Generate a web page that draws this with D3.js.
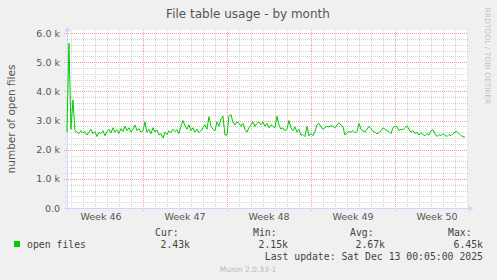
<!DOCTYPE html>
<html>
<head>
<meta charset="utf-8">
<script src="https://cdn.jsdelivr.net/npm/d3@7"></script>
<style>
  body { margin: 0; background: #f0f0f0; }
  svg text { font-family: "DejaVu Sans", sans-serif; }
  .mono { font-family: "DejaVu Sans Mono", monospace; }
</style>
</head>
<body>
<div id="chart"></div>
<script>

// open files, one sample every 4 hours, split at the sunday grid lines
var week46 = [2600, 5650, 2700, 3700, 2650, 2600, 2550, 2650, 2580, 2620,
              2500, 2600, 2700, 2550, 2620, 2450, 2600, 2550, 2650, 2480,
              2620, 2700, 2580, 2750, 2600, 2680, 2560, 2720, 2620, 2800,
              2650, 2750, 2600, 2700, 2850, 2650, 2720, 2600];
var week47 = [2650, 2950, 2600, 2700, 2550, 2750, 2600, 2680, 2500, 2550,
              2400, 2600, 2520, 2650, 2580, 2700, 2620, 2680, 2550, 2800,
              3000, 2820, 2700, 2850, 2650, 2750, 2600, 2700, 2580, 2650,
              2750, 2850, 2700, 3130, 2800, 2700, 2650, 2950, 2800, 3050,
              3150, 2500];
var week48 = [2500, 3150, 3200, 2950, 2850, 2950, 2900, 2800, 2900, 2700,
              2600, 2750, 2850, 2950, 2800, 2900, 2950, 2850, 2950, 2800,
              2900, 2750, 2850, 2800, 2750, 3150, 2850, 2700, 2750, 2650,
              2700, 3000, 2750, 2650, 2780, 2600, 2700, 2500, 2520, 2450,
              2800, 2470];
var week49 = [2550, 2480, 2620, 2850, 2900, 2780, 2700, 2750, 2800, 2780,
              2820, 2800, 2750, 2850, 2920, 2850, 2780, 2500, 2580, 2620,
              2600, 2650, 2580, 2620, 2900, 2700, 2650, 2600, 2700, 2800,
              2720, 2630, 2600, 2550, 2580, 2650, 2750, 2700, 2650, 2620,
              2550, 2750];
var week50 = [2800, 2780, 2650, 2700, 2680, 2750, 2820, 2700, 2600, 2650,
              2550, 2600, 2500, 2580, 2520, 2480, 2550, 2500, 2650, 2680,
              2550, 2450, 2520, 2480, 2550, 2500, 2450, 2520, 2480, 2550,
              2600, 2620, 2550, 2480, 2450, 2430];

var yTicks = [0, 1000, 2000, 3000, 4000, 5000, 6000];
var yTickLabels = ["0.0", "1.0 k", "2.0 k", "3.0 k", "4.0 k", "5.0 k", "6.0 k"];
var weekLabels = ["Week 46", "Week 47", "Week 48", "Week 49", "Week 50"];
var legendHeads = ["Cur:", "Min:", "Avg:", "Max:"];
var legendValues = ["2.43k", "2.15k", "2.67k", "6.45k"];

var lastUpdate = new Date(Date.UTC(2025, 11, 13, 0, 5));
var firstSample = new Date(Date.UTC(2025, 10, 9, 16, 0));
var step = 4 * 3600 * 1000;

var values = week46.concat(week47, week48, week49, week50);
var data = values.map(function(v, i) {
  return {t: new Date(firstSample.getTime() + i * step), v: v};
});

var W = 497, H = 280;
var svg = d3.select("#chart").append("svg")
  .attr("width", W).attr("height", H)
  .style("display", "block");

svg.append("rect").attr("width", W).attr("height", H).attr("fill", "#f0f0f0");

// munin month graph: 400 px, 2 hours per px
var graphStart = new Date(lastUpdate.getTime() - 400 * 7200 * 1000);
var x = d3.scaleUtc().domain([graphStart, lastUpdate]).range([67, 467]);
var y = d3.scaleLinear().domain([0, 6000]).range([208, 33]);

svg.append("rect")
  .attr("x", 67).attr("y", 30)
  .attr("width", 401).attr("height", 178)
  .attr("fill", "#ffffff");

function px(v) { return Math.round(v) + 0.5; }

// grid
var sundays = d3.utcSunday.range(graphStart, lastUpdate);
var days = d3.utcDay.range(graphStart, lastUpdate).filter(function(d) { return d.getUTCDay() !== 0; });
var minorY = d3.range(200, 6001, 200).filter(function(v) { return v % 1000 !== 0; });

var grid = svg.append("g").attr("fill", "none").attr("stroke-width", 1).attr("stroke-dasharray", "1,1");

grid.selectAll(".hmin").data(minorY).enter().append("line")
  .attr("x1", 65).attr("x2", 468)
  .attr("y1", function(d) { return px(y(d)); })
  .attr("y2", function(d) { return px(y(d)); })
  .attr("stroke", "#d2d2d2");

grid.selectAll(".vmin").data(days).enter().append("line")
  .attr("x1", function(d) { return px(x(d)); })
  .attr("x2", function(d) { return px(x(d)); })
  .attr("y1", 30).attr("y2", 210)
  .attr("stroke", "#d2d2d2");

grid.selectAll(".hmaj").data(yTicks.slice(1)).enter().append("line")
  .attr("x1", 64).attr("x2", 468)
  .attr("y1", function(d) { return px(y(d)); })
  .attr("y2", function(d) { return px(y(d)); })
  .attr("stroke", "#eea0a0");

grid.selectAll(".vmaj").data(sundays).enter().append("line")
  .attr("x1", function(d) { return px(x(d)); })
  .attr("x2", function(d) { return px(x(d)); })
  .attr("y1", 30).attr("y2", 211)
  .attr("stroke", "#eea0a0");

// axes
svg.append("line").attr("x1", 64).attr("x2", 470).attr("y1", 208.5).attr("y2", 208.5)
  .attr("stroke", "#cfd6f8");
svg.append("line").attr("x1", 67.5).attr("x2", 67.5).attr("y1", 28).attr("y2", 211)
  .attr("stroke", "#cfd6f8");
svg.append("path").attr("d", "M64.5,31.5L70.5,31.5L67.5,26.5Z").attr("fill", "#cfd6f8");
svg.append("path").attr("d", "M468.5,205.5L468.5,211.5L473.5,208.5Z").attr("fill", "#cfd6f8");

// the series
var line = d3.line()
  .x(function(d) { return x(d.t); })
  .y(function(d) { return y(d.v); });

svg.append("path").datum(data)
  .attr("d", line)
  .attr("fill", "none")
  .attr("stroke", "#00cc00")
  .attr("stroke-width", 1);

// y labels
svg.selectAll(".ylab").data(yTicks).enter().append("text")
  .attr("x", 60)
  .attr("y", function(d) { return y(d) + 3.5; })
  .attr("text-anchor", "end")
  .attr("font-size", "9.5px")
  .attr("fill", "#555")
  .text(function(d, i) { return yTickLabels[i]; });

// week labels centred on each week
svg.selectAll(".xlab").data(weekLabels).enter().append("text")
  .attr("x", function(d, i) {
    var mid = new Date(d3.utcSunday.offset(d3.utcSunday.floor(graphStart), i + 1).getTime() - 3.5 * 864e5);
    return x(mid);
  })
  .attr("y", 220)
  .attr("text-anchor", "middle")
  .attr("font-size", "9.5px")
  .attr("fill", "#555")
  .text(function(d) { return d; });

svg.append("text")
  .attr("x", 248).attr("y", 18)
  .attr("text-anchor", "middle")
  .attr("font-size", "12px")
  .attr("fill", "#555")
  .text("File table usage - by month");

svg.append("text")
  .attr("transform", "translate(15,119) rotate(-90)")
  .attr("text-anchor", "middle")
  .attr("font-size", "10.5px")
  .attr("fill", "#555")
  .text("number of open files");

svg.append("text")
  .attr("transform", "translate(485,56) rotate(90)")
  .attr("text-anchor", "middle")
  .attr("font-size", "7.5px")
  .attr("fill", "#c4c4c4")
  .text("RRDTOOL / TOBI OETIKER");

// legend
svg.append("rect").attr("x", 14).attr("y", 241).attr("width", 6).attr("height", 6)
  .attr("fill", "#00cc00");
svg.append("text").attr("class", "mono")
  .attr("x", 27).attr("y", 248)
  .attr("font-size", "9.8px").attr("fill", "#444")
  .text("open files");

var headX = [155, 253, 350, 448];
svg.selectAll(".lh").data(legendHeads).enter().append("text")
  .attr("class", "mono")
  .attr("x", function(d, i) { return headX[i]; })
  .attr("y", 236)
  .attr("font-size", "9.8px").attr("fill", "#444")
  .text(function(d) { return d; });

svg.selectAll(".lv").data(legendValues).enter().append("text")
  .attr("class", "mono")
  .attr("x", function(d, i) { return headX[i] + 35; })
  .attr("y", 248)
  .attr("text-anchor", "end")
  .attr("font-size", "9.8px").attr("fill", "#444")
  .text(function(d) { return d; });

svg.append("text").attr("class", "mono")
  .attr("x", 483).attr("y", 260)
  .attr("text-anchor", "end")
  .attr("font-size", "9.8px").attr("fill", "#444")
  .text("Last update: Sat Dec 13 00:05:00 2025");

svg.append("text")
  .attr("x", 248).attr("y", 272)
  .attr("text-anchor", "middle")
  .attr("font-size", "7.5px")
  .attr("fill", "#b8b8b8")
  .text("Munin 2.0.33-1");

</script>
</body>
</html>
